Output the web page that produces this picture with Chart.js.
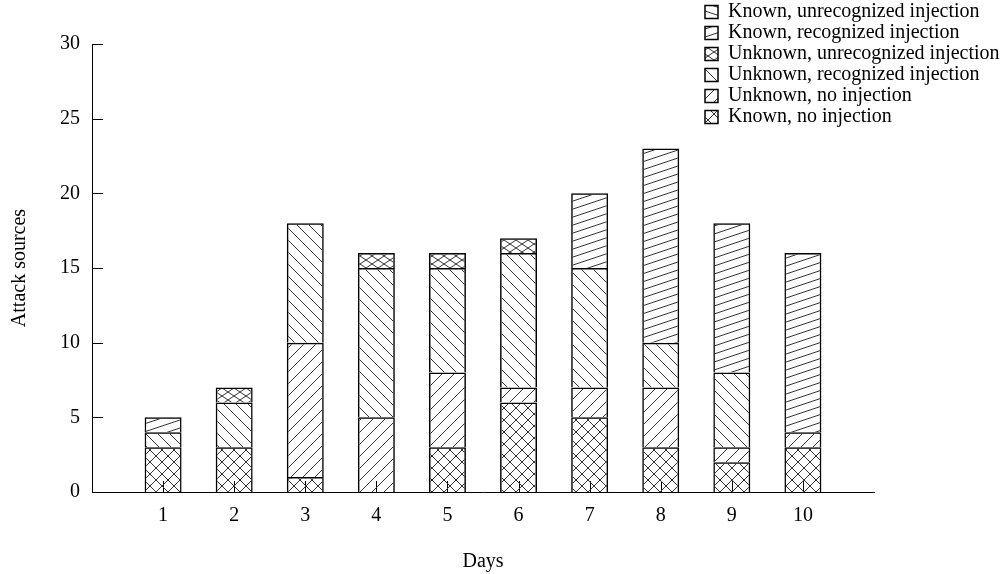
<!DOCTYPE html>
<html>
<head>
<meta charset="utf-8">
<script src="https://cdn.jsdelivr.net/npm/chart.js@4.4.0/dist/chart.umd.min.js"></script>
<style>
  html, body { margin: 0; padding: 0; background: #fff; }
  #wrap { width: 1008px; height: 574px; }
</style>
</head>
<body>
<div id="wrap"><canvas id="chart"></canvas></div>
<script>
// days on the x axis
const days = [1, 2, 3, 4, 5, 6, 7, 8, 9, 10];

// attack sources per day, stacked bottom to top
const knownNoInjection = [3, 3, 1, 0, 3, 6, 5, 3, 2, 3];
const unknownNoInjection = [0, 0, 9, 5, 5, 1, 2, 4, 1, 1];
const unknownRecognized = [1, 3, 8, 10, 7, 9, 8, 3, 5, 0];
const unknownUnrecognized = [0, 1, 0, 1, 1, 1, 0, 0, 0, 0];
const knownRecognized = [1, 0, 0, 0, 0, 0, 5, 13, 10, 12];
const knownUnrecognized = [0, 0, 0, 0, 0, 0, 0, 0, 0, 0];

const yTicks = [0, 5, 10, 15, 20, 25, 30];

const FONT = "'Liberation Serif', 'Times New Roman', serif";

function hatch(w, h, segs) {
  const c = document.createElement('canvas');
  c.width = w;
  c.height = h;
  const g = c.getContext('2d');
  g.strokeStyle = '#333';
  g.lineWidth = 1;
  g.beginPath();
  segs.forEach(function (s) {
    for (let dx = -w; dx <= w; dx += w) {
      for (let dy = -h; dy <= h; dy += h) {
        g.moveTo(s[0] + dx, s[1] + dy);
        g.lineTo(s[2] + dx, s[3] + dy);
      }
    }
  });
  g.stroke();
  return g.createPattern(c, 'repeat');
}

const patterns = {
  cross: hatch(12, 12, [[0, 0, 12, 12], [0, 12, 12, 0]]),
  slash: hatch(12, 12, [[0, 12, 12, 0]]),
  back: hatch(12, 12, [[0, 0, 12, 12]]),
  fineCross: hatch(12, 8, [[0, 0, 12, 8], [0, 8, 12, 0]]),
  flatSlash: hatch(24, 8, [[0, 8, 24, 0]]),
  flatBack: hatch(24, 8, [[0, 0, 24, 8]])
};

function series(label, values, pattern) {
  return {
    label: label,
    // empty segments are left out so they draw no border line
    data: days.map((d, i) => ({ x: d, y: values[i] === 0 ? null : values[i] })),
    backgroundColor: pattern,
    borderColor: '#000',
    borderWidth: 1.5,
    // bottom edge comes from the segment below (or the axis)
    borderSkipped: 'start',
    categoryPercentage: 1,
    barPercentage: 0.52
  };
}

// y ticks point into the plot, x ticks point up from the axis
const inwardTicks = {
  id: 'inwardTicks',
  beforeDatasetsDraw(chart) {
    const { ctx, chartArea, scales } = chart;
    ctx.save();
    ctx.strokeStyle = '#000';
    ctx.lineWidth = 1;
    ctx.beginPath();
    yTicks.forEach((v) => {
      const py = Math.round(scales.y.getPixelForValue(v)) + 0.5;
      ctx.moveTo(chartArea.left, py);
      ctx.lineTo(chartArea.left + 11, py);
    });
    days.forEach((d) => {
      const px = Math.round(scales.x.getPixelForValue(d)) + 0.5;
      ctx.moveTo(px, chartArea.bottom);
      ctx.lineTo(px, chartArea.bottom - 11);
    });
    ctx.stroke();
    ctx.restore();
  }
};

// legend sits in the top right corner, outside the plot
const legendCorner = {
  id: 'legendCorner',
  afterLayout(chart) {
    const lg = chart.legend;
    const w = lg.width, h = lg.height;
    lg.left = 704;
    lg.top = 1;
    lg.right = lg.left + w;
    lg.bottom = lg.top + h;
  }
};

const ctx = document.getElementById('chart').getContext('2d');

new Chart(ctx, {
  type: 'bar',
  data: {
    datasets: [
      series('Known, no injection', knownNoInjection, patterns.cross),
      series('Unknown, no injection', unknownNoInjection, patterns.slash),
      series('Unknown, recognized injection', unknownRecognized, patterns.back),
      series('Unknown, unrecognized injection', unknownUnrecognized, patterns.fineCross),
      series('Known, recognized injection', knownRecognized, patterns.flatSlash),
      series('Known, unrecognized injection', knownUnrecognized, patterns.flatBack)
    ]
  },
  options: {
    responsive: true,
    maintainAspectRatio: false,
    animation: false,
    layout: { padding: { top: 44, right: 134, left: 0, bottom: 0 } },
    plugins: {
      tooltip: { enabled: false },
      legend: {
        position: 'chartArea',
        align: 'start',
        reverse: true,
        labels: {
          color: '#000',
          font: { family: FONT, size: 20 },
          boxWidth: 13,
          boxHeight: 13,
          padding: 1
        }
      }
    },
    scales: {
      x: {
        type: 'linear',
        stacked: true,
        offset: false,
        min: 0,
        max: 11,
        grid: { display: false, drawTicks: false },
        border: { display: true, color: '#000', width: 1 },
        afterFit: (s) => { s.height = 82; },
        ticks: {
          stepSize: 1,
          color: '#000',
          padding: 12,
          font: { family: FONT, size: 20 },
          callback: (v) => (days.includes(v) ? String(v) : '')
        },
        title: {
          display: true,
          text: 'Days',
          color: '#000',
          font: { family: FONT, size: 20 },
          padding: { top: 0, bottom: 0 }
        }
      },
      y: {
        stacked: true,
        min: 0,
        max: 30,
        grid: { display: false, drawTicks: false },
        border: { display: true, color: '#000', width: 1 },
        afterFit: (s) => { s.width = 92; },
        ticks: {
          stepSize: 5,
          color: '#000',
          padding: 12,
          font: { family: FONT, size: 20 }
        },
        title: {
          display: true,
          text: 'Attack sources',
          color: '#000',
          font: { family: FONT, size: 20 },
          padding: { top: 8, bottom: 0 }
        }
      }
    }
  },
  plugins: [inwardTicks, legendCorner]
});
</script>
</body>
</html>
